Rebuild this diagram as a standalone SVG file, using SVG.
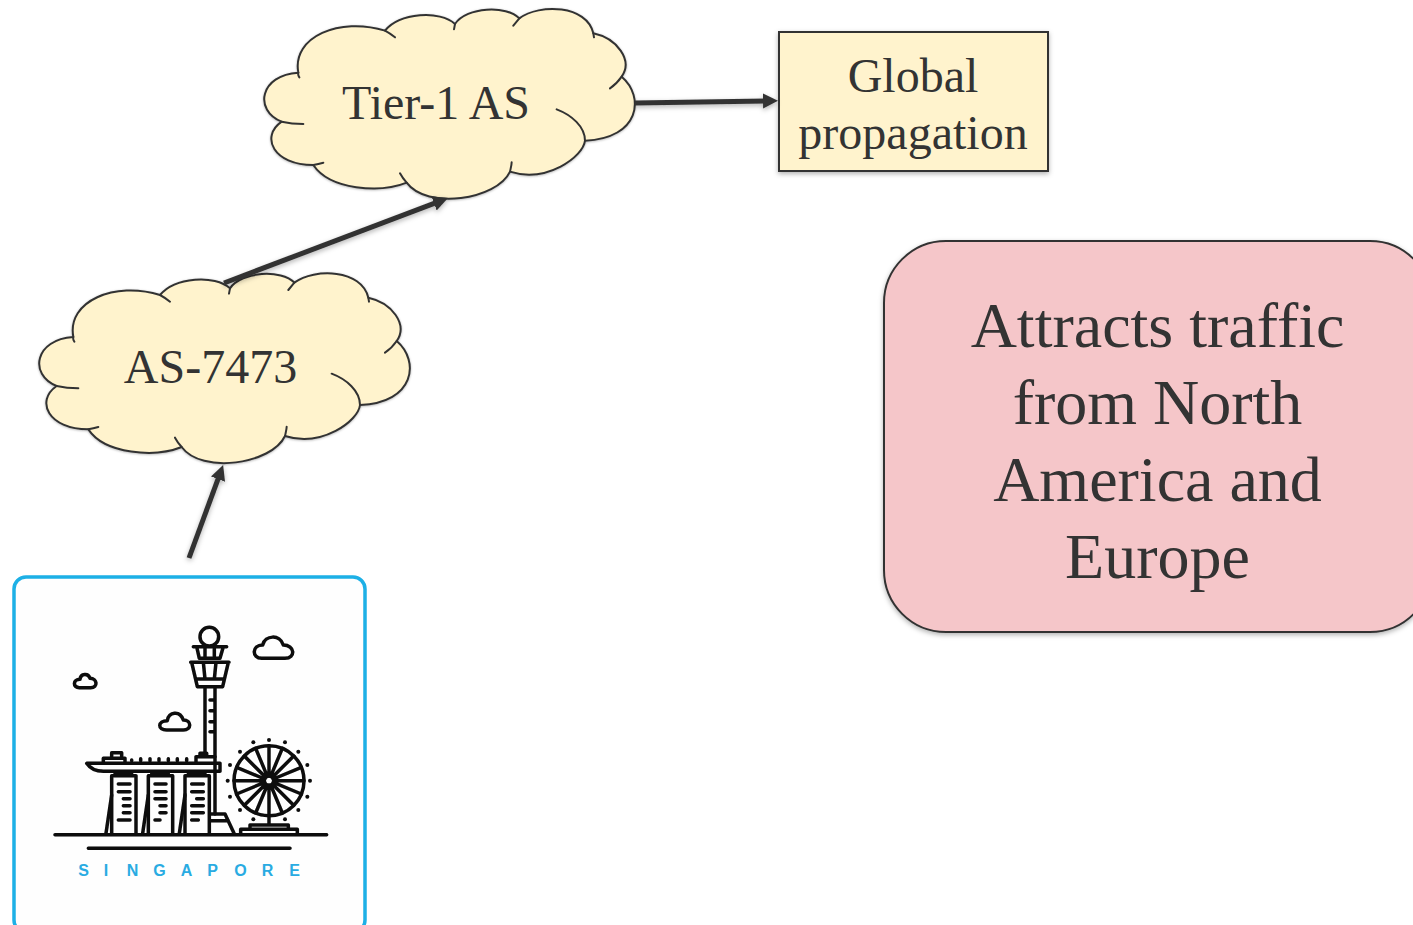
<svg xmlns="http://www.w3.org/2000/svg" width="1413" height="925" viewBox="0 0 1413 925">
<style>
.lbl{font-family:"Liberation Serif","Times New Roman",serif;fill:#333;text-anchor:middle}
.art{fill:none;stroke:#0a0a0a;stroke-width:10.5;stroke-linecap:round;stroke-linejoin:round}
.conn{fill:none;stroke:#333;stroke-width:5}
.box{stroke:#333;stroke-width:2}
.cl{stroke:#333;stroke-width:6;stroke-linejoin:round;stroke-linecap:round}
</style>
<defs>
<filter id="sh" x="-10%" y="-10%" width="120%" height="125%"><feDropShadow dx="0" dy="2" stdDeviation="2.5" flood-color="#000" flood-opacity=".3"/></filter>
<filter id="lsh" filterUnits="userSpaceOnUse" x="0" y="0" width="1413" height="925"><feDropShadow dx="0" dy="2" stdDeviation="2.5" flood-color="#000" flood-opacity=".3"/></filter>
<filter id="soft" x="-5%" y="-5%" width="110%" height="110%"><feGaussianBlur stdDeviation="0.6"/></filter>
<marker id="ah" markerUnits="userSpaceOnUse" markerWidth="18" markerHeight="16" refX="3" refY="8" orient="auto"><path d="M0,.5 L15,8 L0,15.5Z" fill="#333"/></marker>
<g id="cloud">
<path class="cl" fill="#fff3cd" d="M145,218 C125,110 270,50 405,92 C450,38 570,30 615,72 C650,20 770,15 808,55 C870,10 1010,15 1030,100 C1100,115 1150,180 1115,230 C1185,290 1170,415 1005,422 C1000,470 890,550 780,515 C740,600 530,630 470,548 C390,580 240,570 190,495 C70,495 30,410 95,365 C10,330 30,225 145,218Z"/>
<path class="cl" fill="none" d="M148,232Q143,225 145,218M405,92Q420,100 435,112M615,72L612,88M808,55L790,77M1030,100L1032,112M1115,230Q1100,252 1080,265M920,328C965,345 1005,380 1005,422M785,487C785,495 782,505 780,515M450,520Q458,535 470,548M190,495Q205,492 220,488M95,365Q125,372 160,372"/>
</g>
</defs>
<g id="node-tier1">
<use href="#cloud" transform="translate(250,0) scale(.33333)" filter="url(#sh)"/>
<text class="lbl" x="436" y="119" font-size="48">Tier-1 AS</text>
</g>
<g id="node-as7473">
<use href="#cloud" transform="translate(25,264.33) scale(.33333)" filter="url(#sh)"/>
<text class="lbl" x="210.500" y="383" font-size="48">AS-7473</text>
</g>
<g id="node-global">
<rect class="box" x="779" y="32" width="269" height="139" fill="#fff3cd" filter="url(#sh)"/>
<text class="lbl" x="913" y="92" font-size="48">Global</text>
<text class="lbl" x="913" y="149" font-size="48">propagation</text>
</g>
<g id="node-attracts">
<rect class="box" x="884" y="241" width="548" height="391" rx="62" fill="#f5c6c9" filter="url(#sh)"/>
<text class="lbl" x="1157.500" y="347" font-size="64">Attracts traffic</text>
<text class="lbl" x="1157.500" y="424" font-size="64">from North</text>
<text class="lbl" x="1157.500" y="501" font-size="64">America and</text>
<text class="lbl" x="1157.500" y="578" font-size="64">Europe</text>
</g>
<g id="node-singapore">
<rect x="14" y="577" width="351" height="355" rx="12" fill="#fefefe" stroke="#1db0e6" stroke-width="3.500"/>
<g transform="translate(40,610) scale(.33333)" filter="url(#soft)">
<g class="art">
<path d="M45,674H860M145,715H750"/>
<circle cx="508" cy="80" r="28"/>
<path d="M460,110H560M470,110L478,145H540L550,110M495,110V145M523,110V145"/>
<path d="M452,157H567M455,157L472,230H548L565,157M472,207H548M490,157L495,207M528,157L523,207"/>
<path d="M495,230V430M525,230V612"/>
<path d="M510,270H522M510,302H522M510,335H522M510,365H522"/>
<path d="M665,145H735C768,145 765,105 730,105C720,72 675,75 668,105C635,105 635,145 665,145Z"/>
<path d="M118,233H152C175,233 172,205 150,205C145,188 122,190 120,208C98,208 98,233 118,233Z"/>
<path d="M380,360H430C456,360 455,330 430,330C420,300 385,305 382,332C352,332 352,360 380,360Z"/>
<path d="M140,460H540V484H190C165,484 150,475 140,460Z"/>
<path d="M190,460V445H255V460M215,445V428H245V445M468,460V440H525M480,440V430H500V440"/>
<path d="M275,452V450M302,452V446M330,452V446M357,452V446M385,452V446M412,452V446M440,452V446"/>
<path d="M215,670V497H288V670M325,670V497H398V670M435,670V497H508V670M225,490H275M335,490H385M445,490H495"/>
<path d="M215,555L198,670M325,555L308,670M435,555L418,670"/>
<path d="M235,522H270M235,545H270M250,566H270M250,587H270M250,608H270M235,630H270"/>
<path d="M345,522H378M345,545H378M345,566H378M360,587H378M360,608H378M345,630H360"/>
<path d="M455,522H490M455,545H490M470,566H490M455,587H490M455,608H490M455,630H475"/>
<path d="M510,612H555L582,670M510,632H565"/>
<circle cx="687" cy="512" r="105"/>
<circle cx="687" cy="512" r="14"/>
<path d="M687,407V498M687,526V617M582,512H673M701,512H792M761,438L697,502M613,586L677,522M613,438L677,502M761,586L697,522M727,415L692,499M647,609L682,525M647,415L682,499M727,609L692,525M784,472L700,507M590,552L674,517M590,472L674,507M784,552L700,517"/>
<path d="M687,617V645M630,658V645H745V658M602,670V658H772V670"/>
</g>
<g fill="#0a0a0a">
<circle cx="687" cy="390" r="6"/><circle cx="735" cy="397" r="6"/><circle cx="775" cy="425" r="6"/><circle cx="802" cy="465" r="6"/><circle cx="810" cy="512" r="6"/><circle cx="802" cy="560" r="6"/><circle cx="775" cy="600" r="6"/><circle cx="735" cy="628" r="6"/><circle cx="640" cy="628" r="6"/><circle cx="600" cy="600" r="6"/><circle cx="570" cy="560" r="6"/><circle cx="563" cy="512" r="6"/><circle cx="570" cy="465" r="6"/><circle cx="600" cy="425" r="6"/><circle cx="640" cy="397" r="6"/>
</g>
</g>
<text x="83.500 106 132.500 159.500 186.500 212.500 240.500 267.500 294.500" y="876" font-family="'Liberation Sans',Arial,sans-serif" font-size="16" font-weight="bold" fill="#29abe2" text-anchor="middle">SINGAPORE</text>
</g>
<g id="connectors" filter="url(#lsh)">
<path class="conn" d="M189,558L219,476.300" marker-end="url(#ah)"/>
<path class="conn" d="M224,283L436.800,202.300" marker-end="url(#ah)"/>
<path class="conn" d="M635,103L766,101" marker-end="url(#ah)"/>
</g>
</svg>
